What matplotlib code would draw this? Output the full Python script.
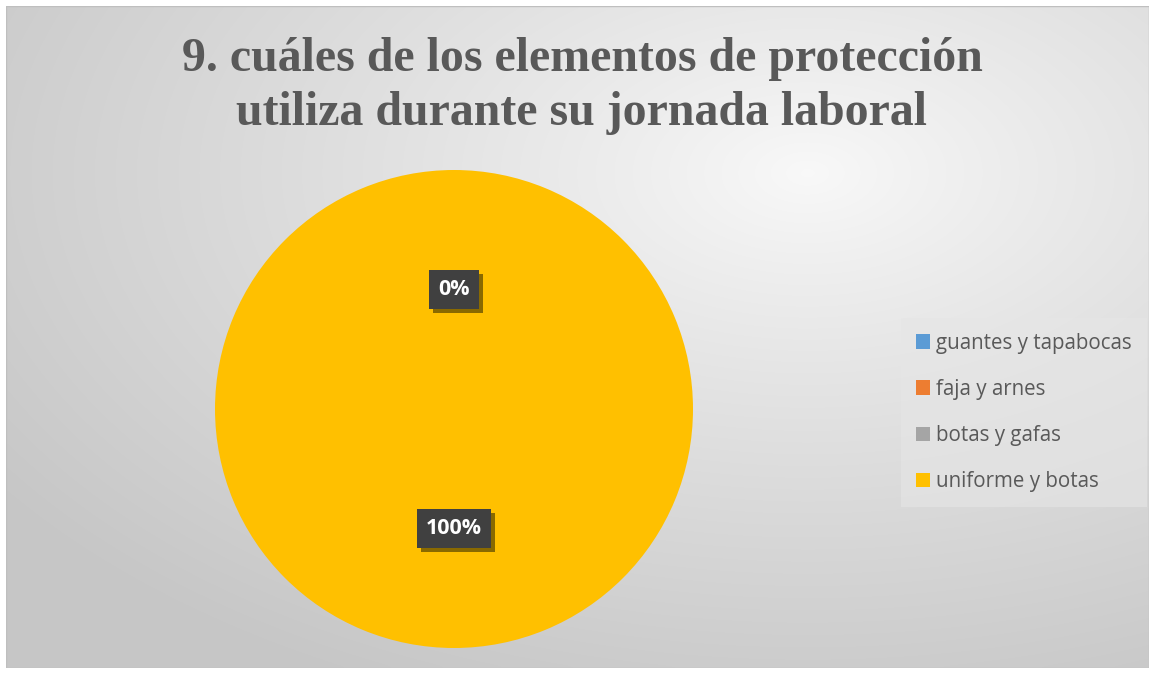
import numpy as np
import matplotlib
matplotlib.use("Agg")
import matplotlib.pyplot as plt
import matplotlib.patheffects as pe
from matplotlib.patches import Rectangle

categories = ["guantes y tapabocas", "faja y arnes", "botas y gafas", "uniforme y botas"]
values = [0, 0, 0, 100]
colors = ["#5B9BD5", "#ED7D31", "#A5A5A5", "#FFC000"]
title = "9. cuáles de los elementos de protección\nutiliza durante su jornada laboral"

W, H = 1154, 674
fig = plt.figure(figsize=(W / 100, H / 100), dpi=100)
fig.patch.set_facecolor("white")

# background gradient panel
bg_ax = fig.add_axes([6 / W, 6 / H, (1149 - 6) / W, (668 - 6) / H])
bg_ax.set_axis_off()
ny, nx = 200, 340
yy, xx = np.mgrid[0:ny, 0:nx]
cx, cy = 0.70 * nx, 0.25 * ny
d = np.sqrt(((xx - cx) / nx) ** 2 + ((yy - cy) / ny) ** 2)
d = np.clip(d / 0.85, 0, 1)
val = 0.975 - (0.975 - 0.78) * d ** 0.9
img = np.dstack([val, val, val])
bg_ax.imshow(img, extent=[0, 1, 0, 1], aspect="auto", origin="upper", interpolation="bicubic")
bg_ax.add_patch(Rectangle((0, 0), 1, 1, transform=bg_ax.transAxes, fill=False,
                          edgecolor="#bfbfbf", linewidth=1))

# title
fig.text(582 / W, 1 - 86 / H, title, ha="center", va="center", family="Liberation Serif",
         fontweight="bold", fontsize=34.5, color="#595959", linespacing=1.3)

# pie
r = 239
pcx, pcy = 454, 409
ax = fig.add_axes([(pcx - r) / W, 1 - (pcy + r) / H, 2 * r / W, 2 * r / H])
wedges, texts, autotexts = ax.pie(values, colors=colors, startangle=90, counterclock=False,
                                  autopct="%1.0f%%", pctdistance=0.5, radius=1,
                                  wedgeprops=dict(linewidth=0))
ax.set_xlim(-1, 1)
ax.set_ylim(-1, 1)
ax.set_aspect("equal")
seen = set()
for t in autotexts:
    s = t.get_text()
    if s in seen:
        t.set_visible(False)
        continue
    seen.add(s)
    t.set_color("white")
    t.set_fontweight("bold")
    t.set_fontsize(15.5)
    t.set_family("Open Sans")
    t.set_bbox(dict(boxstyle="square,pad=0.42", facecolor="#404040", edgecolor="none"))
    t.get_bbox_patch().set_path_effects([pe.SimplePatchShadow(offset=(3, -3), alpha=0.6,
                                                              shadow_rgbFace="#3a3000"),
                                         pe.Normal()])

# legend
handles = [Rectangle((0, 0), 1, 1, facecolor=c, edgecolor="none") for c in colors]
leg = fig.legend(handles, categories, loc="upper left",
                 bbox_to_anchor=(901 / W, 1 - 318 / H), frameon=True,
                 prop=dict(family="Open Sans", size=14.8), labelcolor="#595959",
                 handlelength=0.7, handleheight=0.7, handletextpad=0.3,
                 labelspacing=1.22, borderpad=0.72, borderaxespad=0)
leg.get_frame().set_facecolor("#e6e6e6")
leg.get_frame().set_edgecolor("none")
leg.get_frame().set_alpha(0.6)
leg.get_frame().set_boxstyle("square", pad=0)

fig.savefig("out.png", dpi=100, facecolor="white")
